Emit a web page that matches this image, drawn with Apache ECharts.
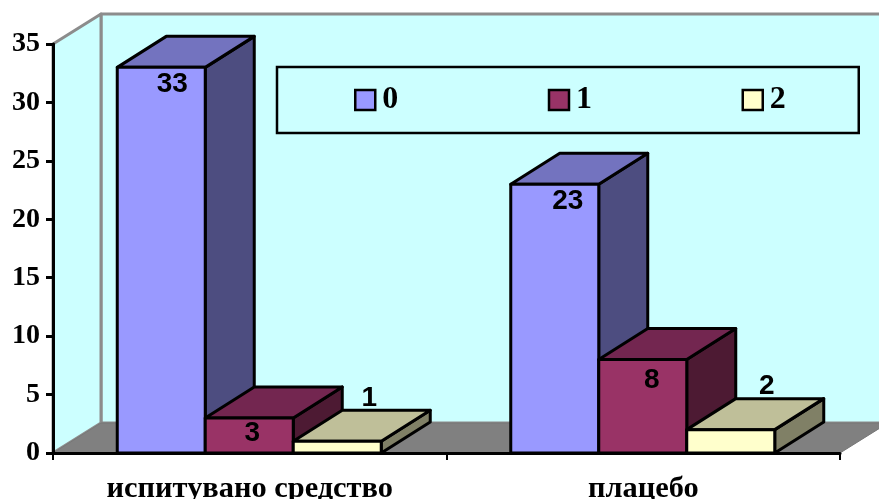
<!DOCTYPE html>
<html>
<head>
<meta charset="utf-8">
<style>html,body{margin:0;padding:0;background:#fff}#chart{width:879px;height:499px}</style>
<script src="https://cdn.jsdelivr.net/npm/echarts@6/dist/echarts.min.js"></script>
</head>
<body>
<div id="chart"></div>
<script>
// Chart values
const categories = ['испитувано средство', 'плацебо'];
const seriesNames = ['0', '1', '2'];
const values0 = [33, 23];
const values1 = [3, 8];
const values2 = [1, 2];
const yTicks = { min: 0, max: 35, interval: 5 };

// Face colours per series: front, top, side
const faces = [
  ['#9999FF', '#7373BF', '#4D4D80'],
  ['#993366', '#732650', '#4D1A33'],
  ['#FFFFCC', '#BFBF99', '#808066']
];

// Pseudo-3D layout constants
const DEPTH_X = 49, DEPTH_Y = 31, WALL_X = 48, WALL_Y = 30;
const BAR_BAND_RATIO = 88 / 393.5;

// Value label placement relative to the top centre of each bar's front face
const labelOffsets = [
  [[11, 17], [13, 17]],
  [[3, 15], [9, 21]],
  [[32, -43], [36, -43]]
];

const serif = '"Liberation Serif","Times New Roman",serif';
const sans = '"Liberation Sans",Arial,sans-serif';

function poly(points, fill, stroke, width) {
  return {
    type: 'polygon',
    shape: { points },
    style: { fill, stroke: stroke || null, lineWidth: width || 0, lineJoin: 'round' }
  };
}

function renderWalls(params) {
  const c = params.coordSys;
  const l = c.x, r = c.x + c.width, t = c.y, b = c.y + c.height;
  const grey = '#8C8C8C';
  return {
    type: 'group',
    children: [
      poly([[l + WALL_X, t - WALL_Y], [r + WALL_X, t - WALL_Y], [r + WALL_X, b - WALL_Y], [l + WALL_X, b - WALL_Y]], '#CCFFFF', grey, 3),
      poly([[l, t], [l + WALL_X, t - WALL_Y], [l + WALL_X, b - WALL_Y], [l, b]], '#CCFFFF', grey, 3),
      poly([[l, b], [l + WALL_X, b - WALL_Y], [r + WALL_X, b - WALL_Y], [r, b]], '#808080', '#777777', 1)
    ]
  };
}

function barRenderer(seriesIndex) {
  return function (params, api) {
    const cat = api.value(0), val = api.value(1);
    const base = api.coord([cat, 0]);
    const top = api.coord([cat, val]);
    const w = api.size([1, 0])[0] * BAR_BAND_RATIO;
    const x0 = base[0] + (seriesIndex - 1.5) * w - 0.5;
    const x1 = x0 + w;
    const y0 = base[1], y1 = top[1];
    const [front, upper, side] = faces[seriesIndex];
    const off = labelOffsets[seriesIndex][cat];
    const cx = (x0 + x1) / 2;
    return {
      type: 'group',
      children: [
        poly([[x1, y1], [x1 + DEPTH_X, y1 - DEPTH_Y], [x1 + DEPTH_X, y0 - DEPTH_Y], [x1, y0]], side, '#000', 3),
        poly([[x0, y1], [x0 + DEPTH_X, y1 - DEPTH_Y], [x1 + DEPTH_X, y1 - DEPTH_Y], [x1, y1]], upper, '#000', 3),
        poly([[x0, y0], [x0, y1], [x1, y1], [x1, y0]], front, '#000', 3),
        {
          type: 'text',
          z2: 50,
          style: {
            text: String(val),
            x: cx + off[0],
            y: y1 + off[1],
            align: 'center',
            verticalAlign: 'middle',
            fill: '#000',
            font: 'bold 28px ' + sans
          }
        }
      ]
    };
  };
}

const seriesValues = [values0, values1, values2];

const option = {
  animation: false,
  backgroundColor: '#fff',
  grid: { left: 53, right: 39, top: 44, bottom: 46, outerBoundsMode: 'none' },
  legend: {
    data: seriesNames,
    left: 277,
    top: 67,
    orient: 'horizontal',
    padding: [17, 73, 17, 77],
    borderColor: '#000',
    borderWidth: 2.5,
    itemWidth: 20,
    itemHeight: 20,
    itemGap: 149.5,
    icon: 'rect',
    itemStyle: { borderColor: '#000', borderWidth: 2.5 },
    textStyle: { fontFamily: serif, fontWeight: 'bold', fontSize: 32, color: '#000', padding: [0, 0, 0, 2] },
    selectedMode: false,
    z: 20
  },
  xAxis: {
    type: 'category',
    data: categories,
    z: 10,
    axisLine: { lineStyle: { color: '#000', width: 3 } },
    axisTick: { show: true, alignWithLabel: false, length: 7, lineStyle: { color: '#000', width: 2 } },
    axisLabel: { fontFamily: serif, fontWeight: 'bold', fontSize: 30.4, color: '#000', margin: 21, interval: 0 }
  },
  yAxis: {
    type: 'value',
    min: yTicks.min,
    max: yTicks.max,
    interval: yTicks.interval,
    z: 10,
    splitLine: { show: false },
    axisLine: { show: true, lineStyle: { color: '#000', width: 3 } },
    axisTick: { show: true, length: 7, lineStyle: { color: '#000', width: 3 } },
    axisLabel: { fontFamily: serif, fontWeight: 'bold', fontSize: 28, color: '#000', margin: 13, padding: [2, 0, 0, 0] }
  },
  series: [
    {
      type: 'custom',
      name: 'walls',
      coordinateSystem: 'cartesian2d',
      clip: false,
      z: 1,
      silent: true,
      data: [[0, 0]],
      renderItem: renderWalls
    }
  ].concat(seriesNames.map((name, i) => ({
    type: 'custom',
    name,
    coordinateSystem: 'cartesian2d',
    clip: false,
    z: 2 + i,
    encode: { x: 0, y: 1 },
    itemStyle: { color: faces[i][0] },
    data: seriesValues[i].map((v, k) => [k, v]),
    renderItem: barRenderer(i)
  })))
};

echarts.init(document.getElementById('chart'), null, { renderer: 'canvas' }).setOption(option);
</script>
</body>
</html>
